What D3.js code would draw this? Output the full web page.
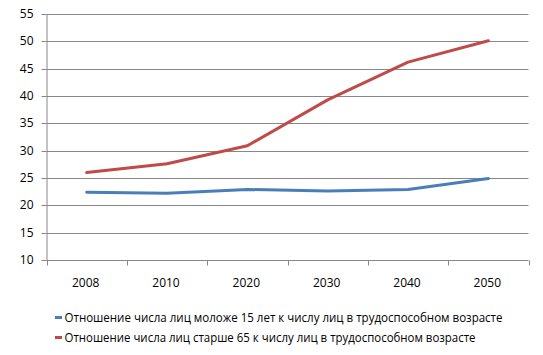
<!DOCTYPE html>
<html><head><meta charset="utf-8">
<script src="https://cdn.jsdelivr.net/npm/d3@7"></script>
<style>body{margin:0;background:#fff}svg{display:block}text{font-family:"Open Sans","DejaVu Sans",sans-serif}</style>
</head><body>
<svg width="543" height="355"></svg>
<script>
const categories = ["2008","2010","2020","2030","2040","2050"];
const under15 = [22.4, 22.2, 22.9, 22.6, 22.9, 24.9];
const over65 = [26.0, 27.6, 30.9, 39.3, 46.2, 50.1];
const yTicks = [10,15,20,25,30,35,40,45,50,55];
const seriesNames = ["Отношение числа лиц моложе 15 лет к числу лиц в трудоспособном возрасте",
  "Отношение числа лиц старше 65 к числу лиц в трудоспособном возрасте"];
const colors = ["#4A7EBB", "#BE4B48"];

const svg = d3.select("svg");
const mLeft = 46.5, mRight = 528.5, mTop = 14, mBottom = 260;
const x = d3.scaleBand().domain(categories).range([mLeft, mRight]);
const y = d3.scaleLinear().domain([10, 55]).range([mBottom, mTop]);

// gridlines
svg.append("g").selectAll("line").data(yTicks.filter(d=>d>10)).join("line")
  .attr("x1", mLeft).attr("x2", mRight)
  .attr("y1", d=>Math.round(y(d))+0.5).attr("y2", d=>Math.round(y(d))+0.5)
  .attr("stroke", "#878787").attr("stroke-width", 1);

// y axis
const ya = svg.append("g").attr("transform", `translate(${mLeft},0.5)`)
  .call(d3.axisLeft(y).tickValues(yTicks).tickSize(5).tickPadding(8).tickSizeOuter(0));
ya.select(".domain").attr("stroke", "#878787");
ya.selectAll(".tick line").attr("stroke", "#878787");
ya.selectAll("text").attr("font-size", 12).attr("fill", "#000");
ya.selectAll(".tick").attr("transform", d=>`translate(0,${Math.round(y(d))})`);

// x axis
const xa = svg.append("g").attr("transform", `translate(0,${mBottom+0.5})`);
xa.append("line").attr("x1", mLeft).attr("x2", mRight).attr("stroke", "#878787");
const edges = categories.map(c=>x(c)).concat([mRight]);
xa.selectAll(".tk").data(edges).join("line").attr("class","tk")
  .attr("x1", d=>Math.round(d)+0.5).attr("x2", d=>Math.round(d)+0.5)
  .attr("y1", 0).attr("y2", 5).attr("stroke", "#878787");
xa.selectAll("text").data(categories).join("text")
  .attr("x", d=>x(d)+x.bandwidth()/2 - 1).attr("y", 26)
  .attr("text-anchor", "middle").attr("font-size", 12).attr("fill", "#000").text(d=>d);

// lines
const line = d3.line().x((d,i)=>x(categories[i])+x.bandwidth()/2).y(d=>y(d));
[under15, over65].forEach((s,i)=>{
  svg.append("path").datum(s).attr("d", line).attr("fill","none")
    .attr("stroke", colors[i]).attr("stroke-width", 3).attr("stroke-linejoin","round").attr("stroke-linecap","round");
});

// legend
const lg = svg.append("g");
seriesNames.forEach((n,i)=>{
  const ly = 317.5 + i*20;
  lg.append("line").attr("x1", 55).attr("x2", 62).attr("y1", ly).attr("y2", ly)
    .attr("stroke", colors[i]).attr("stroke-width", 3);
  lg.append("text").attr("x", 64.5).attr("y", ly+4).attr("font-size", 12).attr("fill", "#000").text(n);
});
lg.selectAll("text").each(function(d,i){
  const target = i===0 ? 438 : 411;
  this.setAttribute("textLength", target);
  this.setAttribute("lengthAdjust", "spacingAndGlyphs");
});
</script>
</body></html>
